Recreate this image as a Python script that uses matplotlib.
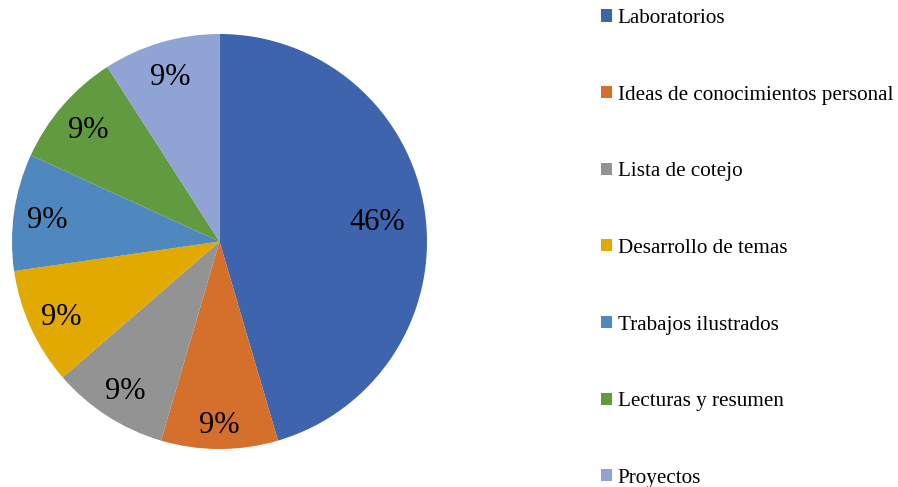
import matplotlib
matplotlib.use("Agg")
import matplotlib.pyplot as plt
import numpy as np

categories = ["Laboratorios", "Ideas de conocimientos personal", "Lista de cotejo",
              "Desarrollo de temas", "Trabajos ilustrados", "Lecturas y resumen", "Proyectos"]
counts = [5, 1, 1, 1, 1, 1, 1]
pct_labels = ["46%", "9%", "9%", "9%", "9%", "9%", "9%"]
colors = ["#3E64AD", "#D4702C", "#939393", "#E2A900", "#4F88BE", "#629A3F", "#8FA3D4"]

plt.rcParams['font.family'] = ['Liberation Serif', 'DejaVu Serif']

fig = plt.figure(figsize=(8.98, 4.87), dpi=100)
W, H = 898, 487
cx, cy, r = 219.5, 241.5, 207.5
ax = fig.add_axes([(cx - r) / W, (H - cy - r) / H, 2 * r / W, 2 * r / H])

wedges, _ = ax.pie(counts, colors=colors, startangle=90, counterclock=False,
                   radius=1, wedgeprops=dict(linewidth=0))
label_dist = [0.77, 0.87, 0.84, 0.84, 0.84, 0.84, 0.84]
for i, w in enumerate(wedges):
    ang = np.deg2rad((w.theta1 + w.theta2) / 2)
    d = label_dist[i]
    ax.text(d * np.cos(ang), d * np.sin(ang), pct_labels[i], ha='center',
            va='center_baseline', fontsize=22, color='black')
ax.set_xlim(-1, 1)
ax.set_ylim(-1, 1)
ax.set_aspect('equal')
ax.axis('off')

fig.legend(wedges, categories, loc='upper left', bbox_to_anchor=(601 / W, 1 - 9 / H),
           frameon=False, fontsize=15.2, handlelength=0.5, handleheight=0.5,
           handletextpad=0.3, labelspacing=2.73, borderpad=0, borderaxespad=0)

fig.savefig("out.png", dpi=100)
